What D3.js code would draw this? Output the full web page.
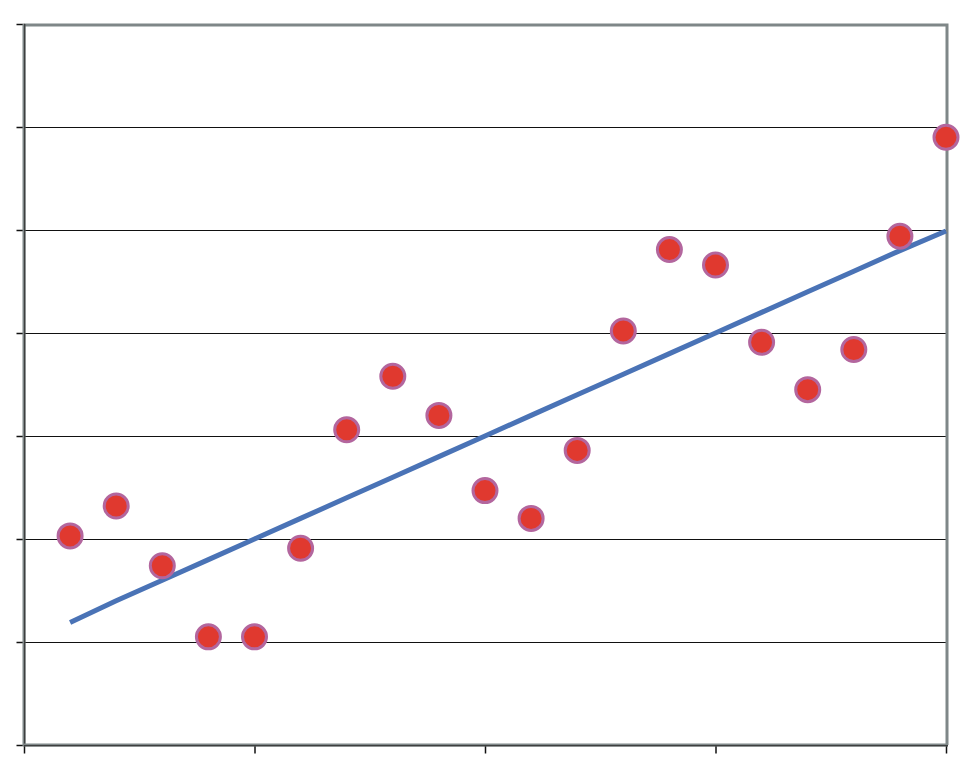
<!DOCTYPE html>
<html>
<head>
<meta charset="utf-8">
<script src="https://cdn.jsdelivr.net/npm/d3@7"></script>
<style>
  body { margin: 0; background: #fff; }
  svg { display: block; }
</style>
</head>
<body>
<div id="chart"></div>
<script>
// data
var xs       = [1, 2, 3, 4, 5, 6, 7, 8, 9, 10, 11, 12, 13, 14, 15, 16, 17, 18, 19, 20];
var observed = [2.03, 2.32, 1.74, 1.05, 1.05, 1.91, 3.06, 3.58, 3.20, 2.47,
                2.20, 2.86, 4.02, 4.81, 4.66, 3.91, 3.45, 3.84, 4.94, 5.90];
var trend    = [1.19, 1.40, 1.60, 1.80, 2.00, 2.20, 2.40, 2.60, 2.80, 3.00,
                3.20, 3.40, 3.60, 3.80, 4.00, 4.20, 4.40, 4.60, 4.80, 4.99];
var xTicks = [0, 5, 10, 15, 20];
var yTicks = [0, 1, 2, 3, 4, 5, 6, 7];

var width = 971, height = 772;
// plot box edges (window.top is reserved, so use other names)
var plotLeft = 24, plotRight = 946, plotTop = 24, plotBottom = 745;

var x = d3.scaleLinear().domain([0, 20]).range([plotLeft, plotRight]);
var y = d3.scaleLinear().domain([0, 7]).range([plotBottom, plotTop]);

var svg = d3.select("#chart")
    .append("svg")
    .attr("width", width)
    .attr("height", height);

// horizontal gridlines
svg.append("g")
    .selectAll("line")
    .data(yTicks.slice(1, -1))
    .enter()
    .append("line")
    .attr("x1", plotLeft)
    .attr("x2", plotRight)
    .attr("y1", function(d) { return Math.round(y(d)) + 0.5; })
    .attr("y2", function(d) { return Math.round(y(d)) + 0.5; })
    .attr("stroke", "#111")
    .attr("stroke-width", 1.2);

// plot frame: top and right in grey
svg.append("path")
    .attr("d", "M" + plotLeft + "," + (plotTop + 1) + "H" + (plotRight + 1) + "V" + plotBottom)
    .attr("fill", "none")
    .attr("stroke", "#7f8788")
    .attr("stroke-width", 3);

// y axis (ticks to the left, no labels)
var yAxis = d3.axisLeft(y).tickValues(yTicks).tickSize(8).tickFormat("");
var gy = svg.append("g")
    .attr("transform", "translate(" + (plotLeft + 0.5) + ",0)")
    .call(yAxis);
gy.select(".domain").remove();
gy.selectAll(".tick line").attr("stroke", "#111").attr("stroke-width", 1.5);
svg.append("line")
    .attr("x1", plotLeft).attr("x2", plotLeft)
    .attr("y1", plotTop).attr("y2", plotBottom + 1)
    .attr("stroke", "#7f8788").attr("stroke-width", 3);
svg.append("line")
    .attr("x1", plotLeft + 0.8).attr("x2", plotLeft + 0.8)
    .attr("y1", plotTop).attr("y2", plotBottom + 1)
    .attr("stroke", "#222").attr("stroke-width", 1);

// x axis (ticks downward, no labels)
var xAxis = d3.axisBottom(x).tickValues(xTicks).tickSize(8).tickFormat("");
var gx = svg.append("g")
    .attr("transform", "translate(0," + (plotBottom + 0.5) + ")")
    .call(xAxis);
gx.select(".domain").remove();
gx.selectAll(".tick line").attr("stroke", "#111").attr("stroke-width", 1.5);
svg.append("line")
    .attr("x1", plotLeft).attr("x2", plotRight + 2)
    .attr("y1", plotBottom).attr("y2", plotBottom)
    .attr("stroke", "#7f8788").attr("stroke-width", 3);
svg.append("line")
    .attr("x1", plotLeft).attr("x2", plotRight + 2)
    .attr("y1", plotBottom + 0.8).attr("y2", plotBottom + 0.8)
    .attr("stroke", "#222").attr("stroke-width", 1);

// trend line
var line = d3.line()
    .x(function(d, i) { return x(xs[i]); })
    .y(function(d) { return y(d); });

svg.append("path")
    .datum(trend)
    .attr("d", line)
    .attr("fill", "none")
    .attr("stroke", "#4a73b6")
    .attr("stroke-width", 5);

// observed points
svg.append("g")
    .selectAll("circle")
    .data(observed)
    .enter()
    .append("circle")
    .attr("cx", function(d, i) { return x(xs[i]); })
    .attr("cy", function(d) { return y(d); })
    .attr("r", 12)
    .attr("fill", "#e0392f")
    .attr("stroke", "#b3669e")
    .attr("stroke-width", 3);
</script>
</body>
</html>
